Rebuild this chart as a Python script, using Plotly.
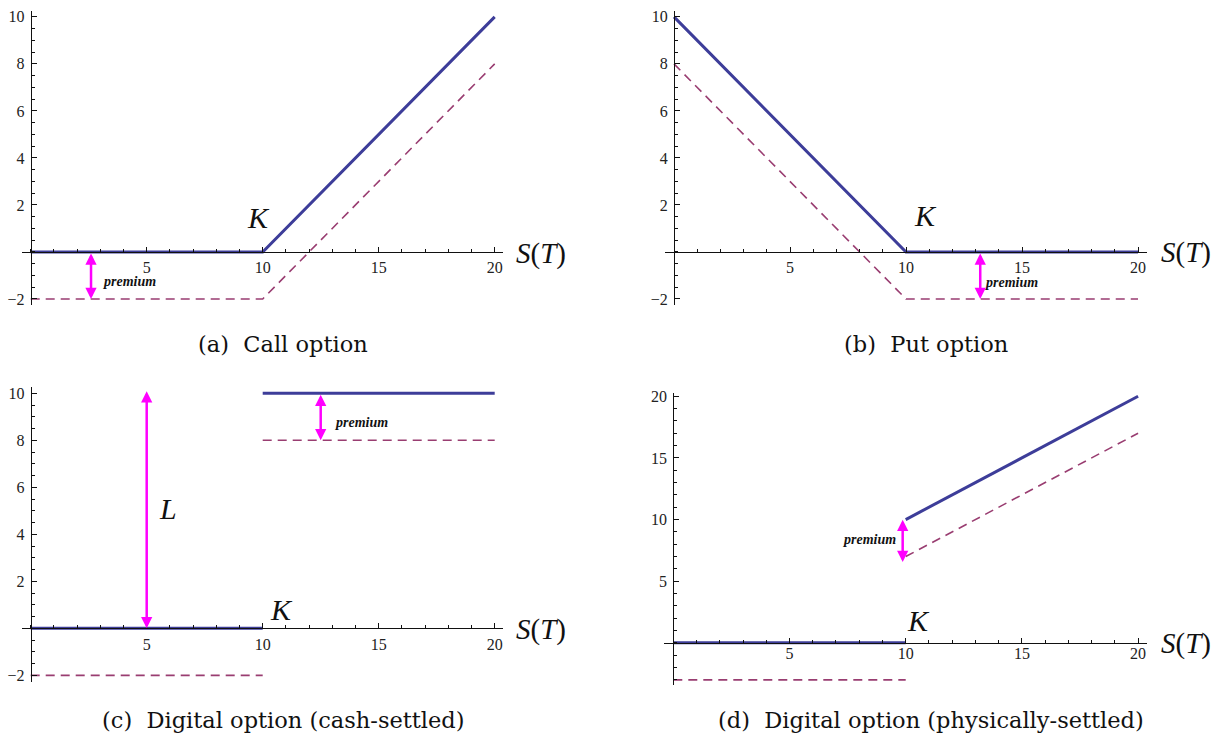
import plotly.graph_objects as go

W, H = 1220, 736

# ---------------- data ----------------
K = 10
S = [0, 10, 20]
call_payoff = [0, 0, 10]
call_profit = [-2, -2, 8]
put_payoff = [10, 0, 0]
put_profit = [8, -2, -2]

S_lo = [0, 10]
S_hi = [10, 20]
cash_payoff_lo = [0, 0]
cash_payoff_hi = [10, 10]
cash_profit_lo = [-2, -2]
cash_profit_hi = [8, 8]
phys_payoff_lo = [0, 0]
phys_payoff_hi = [10, 20]
phys_profit_lo = [-3, -3]
phys_profit_hi = [7, 17]

captions = ["(a)  Call option", "(b)  Put option",
            "(c)  Digital option (cash-settled)",
            "(d)  Digital option (physically-settled)"]
x_tickvals = [5, 10, 15, 20]
y_tickvals_abc = [-2, 2, 4, 6, 8, 10]
y_tickvals_d = [5, 10, 15, 20]
premium_arrow_x = [2.6, 13.2, 12.5, 9.87]
L_arrow_x = 5

# ---------------- styles ----------------
BLUE = "#3D3D99"
PURPLE = "#993D71"
MAGENTA = "#FF00FF"
SOLID = dict(color=BLUE, width=3)
DASHED = dict(color=PURPLE, width=1.6, dash="9px,6px")
SERIF = "Liberation Serif"

# panel geometry (pixel origin, pixel scale, data ranges)
panels = [
    dict(ox=30.7, oy=249.3, sx=23.2, sy=23.73, xr=[-0.39, 20.37], yr=[-2.27, 10.25],
         yt=y_tickvals_abc, ydt=0.5, standoff=1, cap=(282.5, 342), st=(541, 251)),
    dict(ox=674.0, oy=249.3, sx=23.2, sy=23.73, xr=[-0.39, 20.37], yr=[-2.27, 10.25],
         yt=y_tickvals_abc, ydt=0.5, standoff=1, cap=(926, 342), st=(1186, 250)),
    dict(ox=30.7, oy=629.3, sx=23.2, sy=23.73, xr=[-0.39, 20.37], yr=[-2.27, 10.25],
         yt=y_tickvals_abc, ydt=0.5, standoff=1, cap=(283, 722), st=(541, 631)),
    dict(ox=673.3, oy=644.0, sx=23.24, sy=12.45, xr=[-0.39, 20.37], yr=[-3.43, 20.27],
         yt=y_tickvals_d, ydt=1, standoff=-4, cap=(931, 722), st=(1186, 645)),
]

series = [
    [(S, call_profit, DASHED), (S, call_payoff, SOLID)],
    [(S, put_profit, DASHED), (S, put_payoff, SOLID)],
    [(S_lo, cash_profit_lo, DASHED), (S_hi, cash_profit_hi, DASHED),
     (S_lo, cash_payoff_lo, SOLID), (S_hi, cash_payoff_hi, SOLID)],
    [(S_lo, phys_profit_lo, DASHED), (S_hi, phys_profit_hi, DASHED),
     (S_lo, phys_payoff_lo, SOLID), (S_hi, phys_payoff_hi, SOLID)],
]

fig = go.Figure()
layout = dict(width=W, height=H, margin=dict(l=0, r=0, t=0, b=0),
              paper_bgcolor="white", plot_bgcolor="rgba(0,0,0,0)",
              showlegend=False, annotations=[])

TICKFONT = dict(family=SERIF, size=16, color="#222")

for i, p in enumerate(panels):
    n = i + 1
    xk = "xaxis" if n == 1 else f"xaxis{n}"
    yk = "yaxis" if n == 1 else f"yaxis{n}"
    xr_ = "x" if n == 1 else f"x{n}"
    yr_ = "y" if n == 1 else f"y{n}"
    xdom = [(p["ox"] + p["xr"][0] * p["sx"]) / W, (p["ox"] + p["xr"][1] * p["sx"]) / W]
    ydom = [1 - (p["oy"] - p["yr"][0] * p["sy"]) / H, 1 - (p["oy"] - p["yr"][1] * p["sy"]) / H]
    layout[xk] = dict(
        domain=xdom, range=p["xr"], anchor="free", position=1 - p["oy"] / H,
        showgrid=False, zeroline=False, showline=True, linecolor="#111", linewidth=1,
        tickmode="array", tickvals=x_tickvals, ticks="inside", ticklen=5, tickwidth=1,
        tickcolor="#111", tickfont=TICKFONT, ticklabelstandoff=p["standoff"],
        minor=dict(tickmode="linear", tick0=0, dtick=1, ticks="inside", ticklen=3,
                   tickcolor="#111", showgrid=False),
        fixedrange=True,
    )
    layout[yk] = dict(
        domain=ydom, range=p["yr"], anchor="free", position=p["ox"] / W,
        showgrid=False, zeroline=False, showline=True, linecolor="#111", linewidth=1,
        tickmode="array", tickvals=p["yt"], ticks="inside", ticklen=5, tickwidth=1,
        tickcolor="#111", tickfont=TICKFONT, ticklabelstandoff=3,
        minor=dict(tickmode="linear", tick0=0, dtick=p["ydt"], ticks="inside", ticklen=3,
                   tickcolor="#111", showgrid=False),
        fixedrange=True,
    )
    for xs, ys, st in series[i]:
        fig.add_trace(go.Scatter(x=xs, y=ys, mode="lines", line=st,
                                 xaxis=xr_, yaxis=yr_, hoverinfo="skip"))
    # caption
    layout["annotations"].append(dict(
        x=p["cap"][0] / W, y=1 - p["cap"][1] / H, xref="paper", yref="paper",
        text=captions[i], showarrow=False, xanchor="center", yanchor="middle",
        font=dict(family="DejaVu Serif", size=22.5, color="#111")))
    # S(T) label
    layout["annotations"].append(dict(
        x=p["st"][0] / W, y=1 - p["st"][1] / H, xref="paper", yref="paper",
        text="<i>S</i>(<i>T</i>)", showarrow=False,
        xanchor="center", yanchor="middle",
        font=dict(family=SERIF, size=29, color="#111")))

# K labels
K_pos = [(9.84, 1.45), (10.86, 1.55), (10.83, 0.78), (10.55, 1.85)]
for i, (kx, ky) in enumerate(K_pos):
    n = i + 1
    layout["annotations"].append(dict(
        x=kx, y=ky, xref="x" if n == 1 else f"x{n}", yref="y" if n == 1 else f"y{n}",
        text="<i>K</i>", showarrow=False, xanchor="center", yanchor="middle",
        font=dict(family=SERIF, size=30, color="#111")))

# L label
layout["annotations"].append(dict(
    x=5.92, y=5.1, xref="x3", yref="y3", text="<i>L</i>", showarrow=False,
    xanchor="center", yanchor="middle",
    font=dict(family=SERIF, size=30, color="#111")))

# premium labels
prem_pos = [(4.28, -1.25, "x", "y"), (14.53, -1.29, "x2", "y2"),
            (14.24, 8.74, "x3", "y3"), (8.46, 8.35, "x4", "y4")]
for px, py, xa, ya in prem_pos:
    layout["annotations"].append(dict(
        x=px, y=py, xref=xa, yref=ya, text="<b><i>premium</i></b>", showarrow=False,
        xanchor="center", yanchor="middle",
        font=dict(family=SERIF, size=14, color="#111")))

# arrows
ARROW = dict(showarrow=True, arrowhead=2, startarrowhead=2, arrowside="end+start",
             arrowsize=0.9, startarrowsize=0.9, arrowwidth=2.5, arrowcolor=MAGENTA,
             standoff=0, startstandoff=0, text="")
arrows = [
    (premium_arrow_x[0], call_payoff[0], call_profit[0], "x", "y"),
    (premium_arrow_x[1], put_payoff[2], put_profit[2], "x2", "y2"),
    (premium_arrow_x[2], cash_payoff_hi[0], cash_profit_hi[0], "x3", "y3"),
    (L_arrow_x, cash_payoff_hi[0] + 0.15, cash_payoff_lo[0], "x3", "y3"),
    (premium_arrow_x[3], phys_payoff_hi[0] + 0.1, phys_profit_hi[0] - 0.45, "x4", "y4"),
]
for ax_, y_top, y_bot, xa, ya in arrows:
    layout["annotations"].append(dict(
        x=ax_, y=y_bot, ax=ax_, ay=y_top, xref=xa, yref=ya, axref=xa, ayref=ya, **ARROW))

fig.update_layout(**layout)
fig.write_html("out.html")
